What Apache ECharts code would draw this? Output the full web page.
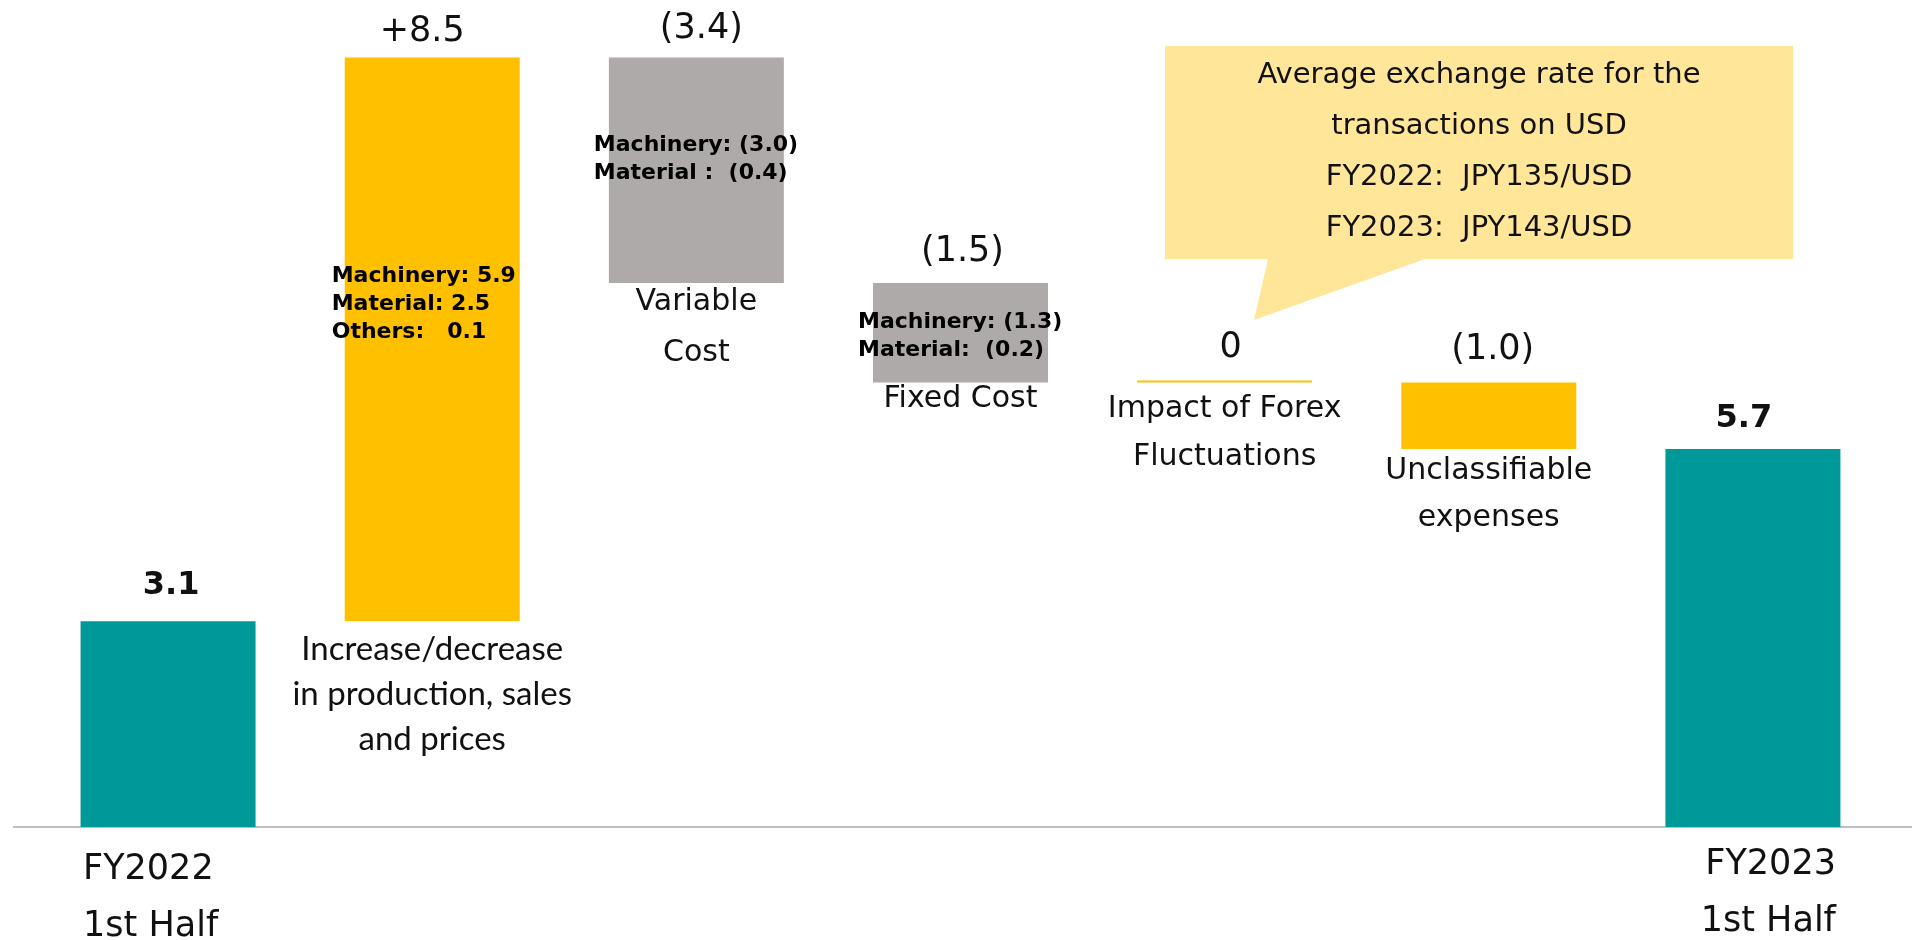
<!DOCTYPE html>
<html>
<head>
<meta charset="utf-8">
<title>Operating income bridge</title>
<style>
  html, body { margin: 0; padding: 0; background: #fff; }
  #chart { width: 1912px; height: 940px; }
</style>
<script src="https://cdn.jsdelivr.net/npm/echarts@6/dist/echarts.min.js"></script>
</head>
<body>
<div id="chart"></div>
<script>
// data
var categories = [
  'FY2022\n1st Half',
  'Increase/decrease\nin production, sales\nand prices',
  'Variable\nCost',
  'Fixed Cost',
  'Impact of Forex\nFluctuations',
  'Unclassifiable\nexpenses',
  'FY2023\n1st Half'
];
var changes = [3.1, 8.5, -3.4, -1.5, 0, -1.0, 5.7];
var isTotal = [true, false, false, false, false, false, true];
var valueTexts = ['3.1', '+8.5', '(3.4)', '(1.5)', '0', '(1.0)', '5.7'];
var breakdowns = [
  '',
  'Machinery: 5.9\nMaterial: 2.5\nOthers:   0.1',
  'Machinery: (3.0)\nMaterial :  (0.4)',
  'Machinery: (1.3)\nMaterial:  (0.2)',
  '', '', ''
];
var barKinds = ['total', 'plus', 'cost', 'cost', 'plus', 'plus', 'total'];
var rateNote = [
  'Average exchange rate for the',
  'transactions on USD',
  'FY2022:  JPY135/USD',
  'FY2023:  JPY143/USD'
];

// styles / layout
var kindColor = { total: '#009999', plus: '#FFC000', cost: '#AEAAAA' };
var textColor = '#111';
var valueDist = [20, 8, 11, 14, 17, 15, 14];
var valueOffset = [[3, 0], [-10, 0], [5, 0], [2, 0], [6, 0], [4, 0], [-9, 0]];
var nameStyle = [
  null,
  { fontFamily: 'Lato', fontSize: 33, lineHeight: 45, distance: 5 },
  { fontFamily: 'DejaVu Sans', fontSize: 30, lineHeight: 51, distance: -6 },
  { fontFamily: 'DejaVu Sans', fontSize: 30, lineHeight: 34, distance: 0 },
  { fontFamily: 'DejaVu Sans', fontSize: 30, lineHeight: 48, distance: 3 },
  { fontFamily: 'DejaVu Sans', fontSize: 30, lineHeight: 47, distance: -1 }
];
var breakdownPos = [null, [-13, 205], [-15, 74], [-15, 25], null, null, null];

// waterfall bases
var bases = [], heights = [], tops = [];
var running = 0;
changes.forEach(function (v, i) {
  if (isTotal[i]) {
    bases.push(0); heights.push(v); running = v;
  } else if (v >= 0) {
    bases.push(running); heights.push(v); running += v;
  } else {
    running += v; bases.push(running); heights.push(-v);
  }
  tops.push(bases[i] + heights[i]);
});

var baseData = bases.map(function (b, i) {
  var st = nameStyle[i];
  if (!st) return { value: b, label: { show: false } };
  return {
    value: b,
    label: {
      show: true, position: 'insideTop', distance: st.distance,
      formatter: categories[i], color: textColor,
      fontFamily: st.fontFamily, fontSize: st.fontSize, lineHeight: st.lineHeight
    }
  };
});

var deltaData = heights.map(function (h, i) {
  var item = { value: h, itemStyle: { color: kindColor[barKinds[i]] } };
  if (isTotal[i]) {
    item.label = {
      show: true, position: 'bottom', distance: i === 0 ? 14 : 9,
      align: i === 0 ? 'left' : 'right', offset: [i === 0 ? -85 : 83, 0],
      formatter: categories[i], color: textColor,
      fontFamily: 'DejaVu Sans', fontSize: 35, lineHeight: 57
    };
  } else if (breakdownPos[i]) {
    item.label = {
      show: true, position: breakdownPos[i], align: 'left', verticalAlign: 'top',
      formatter: breakdowns[i], color: '#000',
      fontFamily: 'DejaVu Sans', fontWeight: 'bold', fontSize: 22, lineHeight: 28
    };
  } else {
    item.label = { show: false };
  }
  return item;
});

var topData = tops.map(function (t, i) {
  var bold = isTotal[i];
  return {
    value: t,
    label: {
      show: true, position: 'top', distance: valueDist[i], offset: valueOffset[i],
      formatter: valueTexts[i], color: textColor,
      fontFamily: 'DejaVu Sans', fontWeight: bold ? 'bold' : 'normal',
      fontSize: bold ? 32 : 35, lineHeight: bold ? 32 : 35
    }
  };
});

var chart = echarts.init(document.getElementById('chart'));
chart.setOption({
  animation: false,
  grid: { left: 36, right: 27, top: 31, bottom: 113, containLabel: false },
  xAxis: {
    type: 'category', data: categories,
    axisLine: { show: false }, axisTick: { show: false }, axisLabel: { show: false }
  },
  yAxis: {
    type: 'value', min: 0, max: 12, show: false, splitLine: { show: false }
  },
  series: [
    {
      name: 'base', type: 'bar', stack: 'w', barWidth: 175, silent: true,
      itemStyle: { color: 'rgba(0,0,0,0)' }, data: baseData
    },
    {
      name: 'change', type: 'bar', stack: 'w', barWidth: 175, barMinHeight: 2,
      data: deltaData
    },
    {
      name: 'value', type: 'bar', barWidth: 175, barGap: '-100%', silent: true,
      itemStyle: { color: 'rgba(0,0,0,0)' }, data: topData, z: 3
    }
  ]
});

var axisY = chart.convertToPixel({ yAxisIndex: 0 }, 0);
chart.setOption({
  graphic: [
    {
      type: 'line', silent: true,
      shape: { x1: 13, y1: axisY, x2: 1912, y2: axisY },
      style: { stroke: '#BFBFBF', lineWidth: 2 }
    },
    {
      type: 'polygon', silent: true, z: 10,
      shape: { points: [[1165, 46], [1793, 46], [1793, 259], [1425, 259], [1254, 320], [1268, 259], [1165, 259]] },
      style: { fill: '#FFE699' }
    },
    {
      type: 'text', silent: true, z: 11, x: 1479, y: 152,
      style: {
        text: rateNote.join('\n'), fill: textColor,
        font: '29px "DejaVu Sans"', lineHeight: 51,
        align: 'center', verticalAlign: 'middle'
      }
    }
  ]
});
</script>
</body>
</html>
